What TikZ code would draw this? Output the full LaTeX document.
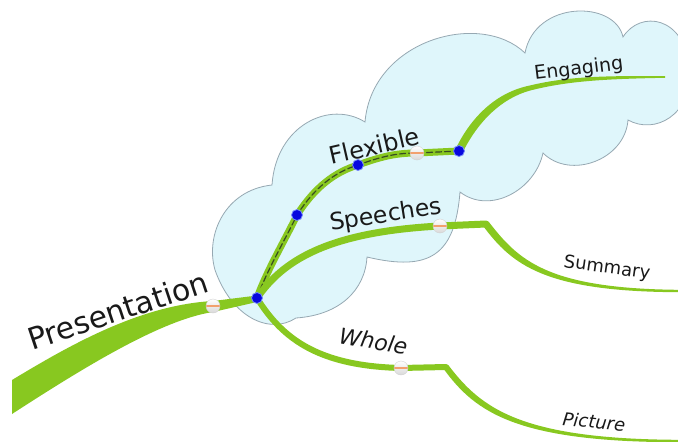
\documentclass[tikz,border=0pt]{standalone}
\usepackage{fontspec}
\setmainfont{DejaVu Sans}
\definecolor{branchgreen}{RGB}{136,200,32}
\definecolor{cloudfill}{RGB}{223,246,251}
\definecolor{cloudline}{RGB}{150,168,178}
\definecolor{labeltext}{RGB}{25,25,25}
\definecolor{dotblue}{RGB}{8,8,222}
\definecolor{dotring}{RGB}{120,140,250}
\definecolor{markorange}{RGB}{242,160,110}
\definecolor{dashdark}{RGB}{55,75,35}
\tikzset{
  branch/.style={draw=branchgreen, line width=7pt, line cap=round},
  bluedot/.style={circle, fill=dotblue, draw=dotring, line width=0.8pt, inner sep=0pt, minimum size=11pt},
  marker/.style={circle, inner sep=0pt, minimum size=14pt, draw=gray!35, top color=white, bottom color=gray!30,
    path picture={\fill[markorange] ([yshift=-1.2pt]path picture bounding box.west) rectangle ([yshift=1.2pt]path picture bounding box.east);}},
  topic/.style={text=labeltext, anchor=base west, inner sep=0pt},
}
\begin{document}
\begin{tikzpicture}[x=1pt, y=-1pt]
\useasboundingbox (0,0) rectangle (678,442);
\clip (0,0) rectangle (678,442);

\filldraw[fill=cloudfill, draw=cloudline, line width=0.8pt]
  (272,185) .. controls (276,125) and (330,100) .. (365,122)
  .. controls (372,40) and (480,10) .. (525,53)
  .. controls (535,0) and (615,0) .. (623,37)
  .. controls (640,10) and (685,15) .. (690,70)
  .. controls (692,115) and (655,135) .. (628,120)
  .. controls (625,160) and (570,180) .. (543,153)
  .. controls (535,190) and (490,215) .. (460,192)
  .. controls (455,255) and (430,272) .. (367,257)
  .. controls (365,290) and (340,315) .. (296,318)
  .. controls (270,335) and (232,318) .. (215,270)
  .. controls (205,235) and (225,190) .. (272,185) -- cycle;

\coordinate (root) at (12,397);
\coordinate (hub) at (257,298);
\coordinate (preMark) at (213,306);
\coordinate (flexA) at (297,215);
\coordinate (flexB) at (358,165);
\coordinate (flexMark) at (417,153);
\coordinate (flexC) at (459,151);
\coordinate (engEnd) at (665,77);
\coordinate (speMark) at (440,226);
\coordinate (speBend) at (486,224);
\coordinate (sumEnd) at (678,291);
\coordinate (whoMark) at (401,368);
\coordinate (whoBend) at (446,367);
\coordinate (picEnd) at (678,441);

\fill[branchgreen] ([yshift=17pt]root) .. controls (70,345) and (140,305) .. ([yshift=5pt]preMark)
  -- ([yshift=2.5pt]hub) -- ([yshift=-4pt]hub) -- ([yshift=-6pt]preMark)
  .. controls (160,320) and (80,370) .. ([yshift=-17pt]root) -- cycle;

\draw[branch, postaction={draw=dashdark, line width=1.2pt, dash pattern=on 6pt off 3pt}]
  (hub) .. controls (267,270) and (285,240) .. (flexA)
  .. controls (315,187) and (335,172) .. (flexB)
  .. controls (385,155) and (400,153) .. (flexMark) -- (flexC);
\fill[branchgreen] ([xshift=-3.3pt,yshift=2.2pt]flexC) .. controls (472,115) and (498,92) .. (529.4,85.6)
  .. controls (565,77) and (600,75.5) .. ([yshift=0.8pt]engEnd) -- ([yshift=-0.8pt]engEnd)
  .. controls (600,79) and (566,81.5) .. (530.6,90.4)
  .. controls (502,98) and (478,121) .. ([xshift=3.3pt,yshift=-2.2pt]flexC) -- cycle;

\draw[branch] (hub) .. controls (282,262) and (325,232) .. (speMark) -- (speBend);
\fill[branchgreen] ([xshift=2.8pt,yshift=2.1pt]speBend) .. controls (518,259.5) and (546,288.5) .. ([yshift=1.2pt]sumEnd)
  -- ([yshift=-1.2pt]sumEnd) .. controls (544,291.5) and (512,264.5) .. ([xshift=-2.8pt,yshift=-2.1pt]speBend) -- cycle;

\draw[branch, line width=6pt] (hub) .. controls (283,340) and (320,366) .. (whoMark) -- (whoBend);
\fill[branchgreen] ([xshift=2.4pt,yshift=1.8pt]whoBend) .. controls (481,408) and (520,439) .. ([yshift=1.2pt]picEnd)
  -- ([yshift=-1.2pt]picEnd) .. controls (516,442) and (475,412) .. ([xshift=-2.4pt,yshift=-1.8pt]whoBend) -- cycle;

\node[marker] (m1) at (preMark) {};
\node[marker] (m2) at (flexMark) {};
\node[marker] (m3) at (speMark) {};
\node[marker] (m4) at (whoMark) {};
\node[bluedot] (d0) at (hub) {};
\node[bluedot] (d1) at (flexA) {};
\node[bluedot] (d2) at (flexB) {};
\node[bluedot] (d3) at (flexC) {};

\node[topic, font=\fontsize{30}{30}\selectfont, rotate=18.5] (presentation) at (32,351) {Presentation};
\node[topic, font=\fontsize{24}{24}\selectfont, rotate=13] (flexible) at (331,165) {Flexible};
\node[topic, font=\fontsize{19}{19}\selectfont, rotate=7] (engaging) at (535,80) {Engaging};
\node[topic, font=\fontsize{23.5}{23.5}\selectfont, rotate=9] (speeches) at (331,231) {Speeches};
\node[topic, font=\fontsize{18}{18}\selectfont, rotate=-8] (summary) at (563,267) {Summary};
\node[topic, font=\fontsize{22}{22}\selectfont\itshape, rotate=-10] (whole) at (338,343) {Whole};
\node[topic, font=\fontsize{18}{18}\selectfont\itshape, rotate=-6] (picture) at (562,425) {Picture};
\end{tikzpicture}
\end{document}
